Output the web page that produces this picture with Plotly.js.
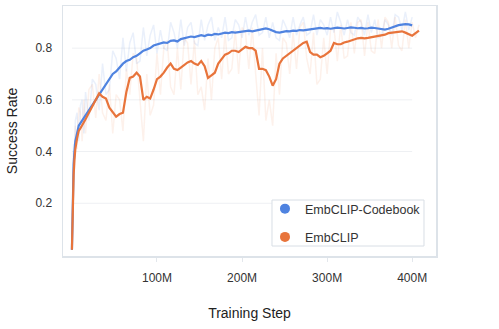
<!DOCTYPE html>
<html>
<head>
<meta charset="utf-8">
<script src="https://cdn.plot.ly/plotly-3.0.1.min.js"></script>
<style>
    html, body { margin: 0; padding: 0; background: #fff; }
    #chart { width: 499px; height: 329px; }
</style>
</head>
<body>
<div id="chart"></div>
<script>
// training steps, in millions
const steps = [
    0, 1, 2, 3, 4, 6, 8, 10, 12, 14,
    16, 20, 24, 28, 32, 36, 40, 44, 48, 52,
    56, 60, 64, 68, 72, 76, 80, 84, 88, 92,
    96, 100, 104, 108, 112, 116, 120, 124, 128, 132,
    136, 140, 144, 148, 152, 156, 160, 164, 168, 172,
    176, 180, 184, 188, 192, 196, 200, 204, 208, 212,
    216, 220, 224, 228, 232, 236, 240, 244, 248, 252,
    256, 260, 264, 268, 272, 276, 280, 284, 288, 292,
    296, 300, 304, 308, 312, 316, 320, 324, 328, 332,
    336, 340, 344, 348, 352, 356, 360, 364, 368, 372,
    376, 380, 384, 388, 392, 396, 400, 404, 408,
];

const codebookSmooth = [
    0.02, 0.27, 0.35, 0.40, 0.44, 0.47, 0.50, 0.51, 0.52, 0.53,
    0.54, 0.56, 0.58, 0.60, 0.62, 0.64, 0.66, 0.68, 0.70, 0.71,
    0.725, 0.74, 0.75, 0.755, 0.765, 0.77, 0.78, 0.79, 0.795, 0.80,
    0.81, 0.815, 0.818, 0.822, 0.82, 0.828, 0.83, 0.826, 0.835, 0.838,
    0.842, 0.845, 0.843, 0.848, 0.85, 0.847, 0.852, 0.85, 0.855, 0.853,
    0.857, 0.86, 0.858, 0.862, 0.86, 0.862, 0.865, 0.866, 0.868, 0.865,
    0.868, 0.872, 0.874, 0.876, 0.873, 0.866, 0.862, 0.86, 0.863, 0.866,
    0.865, 0.868, 0.867, 0.87, 0.869, 0.871, 0.872, 0.874, 0.876, 0.878,
    0.876, 0.877, 0.875, 0.877, 0.879, 0.878, 0.876, 0.878, 0.88, 0.879,
    0.877, 0.878, 0.876, 0.877, 0.879, 0.878, 0.875, 0.873, 0.872, 0.875,
    0.88, 0.885, 0.889, 0.891, 0.893, 0.892, 0.888,
];

const codebookRaw = [
    0.02, 0.32, 0.43, 0.36, 0.52, 0.55, 0.44, 0.58, 0.60, 0.47,
    0.63, 0.52, 0.68, 0.66, 0.56, 0.74, 0.62, 0.64, 0.79, 0.76,
    0.68, 0.84, 0.71, 0.82, 0.86, 0.74, 0.75, 0.88, 0.77, 0.85,
    0.89, 0.78, 0.87, 0.80, 0.79, 0.90, 0.86, 0.80, 0.91, 0.81,
    0.88, 0.90, 0.82, 0.81, 0.91, 0.83, 0.89, 0.92, 0.83, 0.88,
    0.84, 0.92, 0.83, 0.84, 0.91, 0.89, 0.84, 0.92, 0.85, 0.90,
    0.93, 0.85, 0.86, 0.92, 0.84, 0.90, 0.84, 0.83, 0.91, 0.88,
    0.84, 0.92, 0.85, 0.89, 0.92, 0.85, 0.86, 0.93, 0.85, 0.91,
    0.89, 0.85, 0.92, 0.86, 0.94, 0.90, 0.85, 0.91, 0.86, 0.85,
    0.92, 0.90, 0.85, 0.93, 0.86, 0.91, 0.84, 0.85, 0.91, 0.89,
    0.85, 0.93, 0.92, 0.87, 0.94, 0.87, 0.92,
];

const embclipSmooth = [
    0.02, 0.22, 0.31, 0.37, 0.41, 0.45, 0.48, 0.49, 0.50, 0.515,
    0.525, 0.55, 0.575, 0.60, 0.625, 0.612, 0.605, 0.57, 0.55, 0.535,
    0.545, 0.55, 0.63, 0.685, 0.69, 0.705, 0.69, 0.60, 0.612, 0.605,
    0.64, 0.68, 0.69, 0.705, 0.725, 0.74, 0.72, 0.715, 0.725, 0.735,
    0.745, 0.75, 0.74, 0.735, 0.75, 0.73, 0.685, 0.695, 0.705, 0.74,
    0.76, 0.775, 0.78, 0.79, 0.79, 0.785, 0.795, 0.805, 0.80, 0.80,
    0.79, 0.72, 0.72, 0.715, 0.69, 0.655, 0.68, 0.74, 0.76, 0.77,
    0.78, 0.79, 0.80, 0.808, 0.82, 0.825, 0.785, 0.775, 0.775, 0.765,
    0.77, 0.78, 0.79, 0.82, 0.815, 0.815, 0.822, 0.825, 0.83, 0.835,
    0.838, 0.84, 0.838, 0.84, 0.842, 0.845, 0.848, 0.85, 0.852, 0.858,
    0.86, 0.862, 0.865, 0.865, 0.86, 0.855, 0.848, 0.858, 0.868,
];

const embclipRaw = [
    0.02, 0.28, 0.40, 0.33, 0.50, 0.41, 0.57, 0.55, 0.44, 0.60,
    0.47, 0.64, 0.66, 0.53, 0.70, 0.55, 0.52, 0.66, 0.47, 0.62,
    0.60, 0.48, 0.72, 0.62, 0.78, 0.76, 0.60, 0.44, 0.70, 0.54,
    0.58, 0.78, 0.62, 0.80, 0.83, 0.65, 0.62, 0.80, 0.64, 0.84,
    0.82, 0.66, 0.83, 0.62, 0.65, 0.56, 0.76, 0.60, 0.80, 0.84,
    0.68, 0.86, 0.70, 0.72, 0.87, 0.70, 0.88, 0.86, 0.72, 0.88,
    0.70, 0.54, 0.80, 0.52, 0.60, 0.50, 0.78, 0.62, 0.84, 0.82,
    0.70, 0.86, 0.72, 0.88, 0.90, 0.76, 0.70, 0.86, 0.66, 0.68,
    0.84, 0.70, 0.87, 0.88, 0.75, 0.89, 0.76, 0.77, 0.90, 0.78,
    0.90, 0.91, 0.77, 0.90, 0.79, 0.78, 0.91, 0.80, 0.92, 0.90,
    0.80, 0.92, 0.81, 0.79, 0.91, 0.80, 0.90, 0.84, 0.89,
];

const yTicks = [0.2, 0.4, 0.6, 0.8];
const xTicks = [100, 200, 300, 400];
const xTickLabels = ['100M', '200M', '300M', '400M'];

const BLUE = '#4f83e0';
const ORANGE = '#e8743b';

const codebookSteps = steps.slice(0, codebookSmooth.length);

const data = [
    {
        x: codebookSteps, y: codebookRaw, type: 'scatter', mode: 'lines',
        line: { color: 'rgba(79, 131, 224, 0.12)', width: 1.5 },
        showlegend: false, hoverinfo: 'skip',
    },
    {
        x: steps, y: embclipRaw, type: 'scatter', mode: 'lines',
        line: { color: 'rgba(232, 116, 59, 0.10)', width: 1.5 },
        showlegend: false, hoverinfo: 'skip',
    },
    {
        x: codebookSteps, y: codebookSmooth, type: 'scatter', mode: 'lines',
        line: { color: BLUE, width: 2.2 },
        showlegend: false,
    },
    {
        x: steps, y: embclipSmooth, type: 'scatter', mode: 'lines',
        line: { color: ORANGE, width: 2.2 },
        showlegend: false,
    },
    // legend-only entries with round markers
    {
        x: [null], y: [null], type: 'scatter', mode: 'markers',
        name: 'EmbCLIP-Codebook', legendgroup: 'a',
        marker: { color: BLUE, size: 10 },
    },
    {
        x: [null], y: [null], type: 'scatter', mode: 'markers',
        name: 'EmbCLIP', legendgroup: 'b',
        marker: { color: ORANGE, size: 10 },
    },
];

// faint grid only across the data span
const gridShapes = yTicks.map((v) => ({
    type: 'line', xref: 'x', yref: 'y', layer: 'below',
    x0: steps[0], x1: codebookSteps[codebookSteps.length - 1], y0: v, y1: v,
    line: { color: '#eef0f3', width: 1 },
}));

// legend frame, drawn separately so it hugs the entries
const legendFrame = {
    type: 'rect', xref: 'paper', yref: 'paper',
    x0: 0.5603, x1: 0.9678, y0: 0.04, y1: 0.224,
    fillcolor: '#fff',
    line: { color: '#d8dee5', width: 1 },
};

const layout = {
    width: 499,
    height: 329,
    margin: { l: 63, r: 63, t: 6, b: 73 },
    paper_bgcolor: '#fff',
    plot_bgcolor: '#fff',
    font: { family: 'Liberation Sans, Arial, sans-serif', size: 12, color: '#333' },
    xaxis: {
        range: [-10.5, 428],
        tickvals: xTicks,
        ticktext: xTickLabels,
        ticks: 'outside',
        ticklen: 4,
        tickcolor: '#e3e7ec',
        showgrid: false,
        zeroline: false,
        showline: true,
        mirror: true,
        linecolor: '#dde3e9',
        linewidth: 1.5,
        ticklabelstandoff: 6,
        title: { text: 'Training Step', font: { size: 14, color: '#222' }, standoff: 24 },
    },
    yaxis: {
        range: [-0.004, 0.963],
        tickvals: yTicks,
        ticktext: yTicks.map((v) => v.toFixed(1)),
        ticks: '',
        showgrid: false,
        zeroline: false,
        showline: true,
        mirror: true,
        linecolor: '#dde3e9',
        linewidth: 1.5,
        ticklabelstandoff: 7,
        title: { text: 'Success Rate', font: { size: 14, color: '#222' }, standoff: 14 },
    },
    legend: {
        x: 0.5415,
        y: 0.248,
        xanchor: 'left',
        yanchor: 'top',
        bgcolor: 'rgba(0,0,0,0)',
        borderwidth: 0,
        traceorder: 'grouped',
        tracegroupgap: 9,
        font: { size: 12.5, color: '#333' },
    },
    shapes: [legendFrame, ...gridShapes],
};

Plotly.newPlot('chart', data, layout, { displayModeBar: false, staticPlot: true });
</script>
</body>
</html>
